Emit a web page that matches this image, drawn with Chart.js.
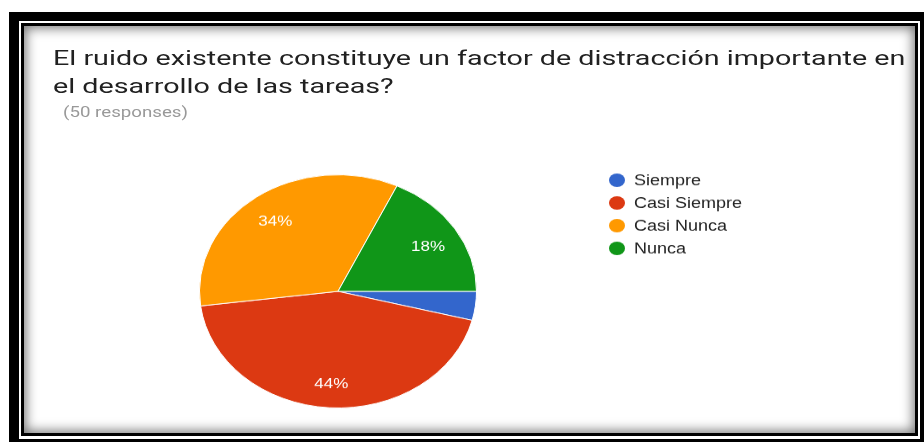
<!DOCTYPE html>
<html>
<head>
<meta charset="utf-8">
<script src="https://cdn.jsdelivr.net/npm/chart.js@4"></script>
<style>
html, body { margin: 0; padding: 0; background: #fff; width: 924px; height: 444px; overflow: hidden; }
.outer { position: absolute; left: 9px; top: 12px; width: 915px; height: 430px; box-sizing: border-box;
  border: solid #000; border-width: 9px 4px 3px 10px; padding: 2px 2px 3px 2px; background: #fff; }
.inner { width: 100%; height: 100%; box-sizing: border-box; border: 3px solid #000;
  box-shadow: inset 0 0 12px 2px rgba(0,0,0,.55); }
/* the picture is squashed vertically, so the content is too */
.content { position: absolute; left: 0; top: 0; width: 924px; height: 527px;
  transform: scaleY(0.842); transform-origin: 0 0; }
.title { position: absolute; left: 53px; top: 52px; font: 24px Roboto; line-height: 34px;
  color: #212121; white-space: nowrap; transform: scaleX(1.195); transform-origin: 0 0; }
.sub { position: absolute; left: 63px; top: 123px; font: 17px Roboto; line-height: 20px; color: #999;
  white-space: nowrap; transform: scaleX(1.1); transform-origin: 0 0; }
#wrap { position: absolute; left: 0; top: 0; width: 924px; height: 527px; }
</style>
</head>
<body>
<div class="outer"><div class="inner"></div></div>
<div class="content">
  <div class="title">El ruido existente constituye un factor de distracción importante en<br>el desarrollo de las tareas?</div>
  <div class="sub">(50 responses)</div>
  <div id="wrap"><canvas id="myChart"></canvas></div>
</div>
<script>
const labels = ['Siempre', 'Casi Siempre', 'Casi Nunca', 'Nunca'];
const responses = [2, 22, 17, 9];
const colors = ['#3366cc', '#dc3912', '#ff9900', '#109618'];

const total = responses.reduce((a, b) => a + b, 0);

// percentages inside the slices (google hides the tiny ones)
const sliceLabels = {
  id: 'sliceLabels',
  afterDatasetsDraw(chart) {
    const ctx = chart.ctx;
    const meta = chart.getDatasetMeta(0);
    ctx.save();
    ctx.font = '17px "Liberation Sans", Arial, sans-serif';
    ctx.fillStyle = '#fff';
    ctx.textAlign = 'center';
    ctx.textBaseline = 'middle';
    meta.data.forEach((arc, i) => {
      const pct = Math.round(responses[i] / total * 100);
      if (pct < 5) return;
      const p = arc.getProps(['x', 'y', 'startAngle', 'endAngle', 'outerRadius'], true);
      const a = (p.startAngle + p.endAngle) / 2;
      const r = p.outerRadius * 0.77;
      ctx.fillText(pct + '%', p.x + Math.cos(a) * r, p.y + Math.sin(a) * r + 4);
    });
    ctx.restore();
  }
};

// legend on the right, dots + names
const dotLegend = {
  id: 'dotLegend',
  afterDraw(chart) {
    const ctx = chart.ctx;
    const ds = chart.data.datasets[0];
    ctx.save();
    ctx.font = '18px "Liberation Sans", Arial, sans-serif';
    ctx.textBaseline = 'middle';
    chart.data.labels.forEach((name, i) => {
      const y = 214 + i * 27;
      ctx.fillStyle = ds.backgroundColor[i];
      ctx.beginPath();
      ctx.arc(617, y, 8, 0, Math.PI * 2);
      ctx.fill();
      ctx.fillStyle = '#222';
      ctx.fillText(name, 634, y + 1);
    });
    ctx.restore();
  }
};

const config = {
  type: 'pie',
  data: {
    labels: labels,
    datasets: [{
      data: responses,
      backgroundColor: colors,
      borderColor: '#fff',
      borderWidth: 1,
      hoverOffset: 0
    }]
  },
  options: {
    responsive: true,
    maintainAspectRatio: false,
    animation: false,
    rotation: 90, // first slice starts at 3 o'clock
    events: [],
    layout: {
      padding: { left: 199, right: 447, top: 207, bottom: 42 }
    },
    plugins: {
      legend: { display: false },
      tooltip: { enabled: false }
    }
  },
  plugins: [sliceLabels, dotLegend]
};

const myChart = new Chart(document.getElementById('myChart'), config);
</script>
</body>
</html>
